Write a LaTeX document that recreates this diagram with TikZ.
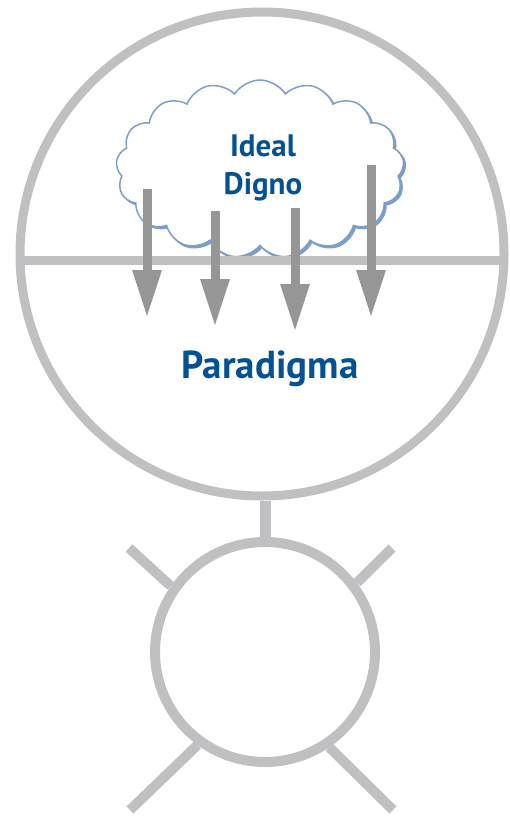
\documentclass[tikz,border=0pt]{standalone}
\usepackage{fontspec}
\setmainfont{PT Sans}
\usetikzlibrary{arrows.meta,shapes.symbols}
\definecolor{ringgray}{RGB}{192,192,194}
\definecolor{arrowgray}{RGB}{150,150,150}
\definecolor{cloudblue}{RGB}{125,158,204}
\definecolor{textblue}{RGB}{4,82,148}
\tikzset{
  ring/.style={circle, draw=ringgray, inner sep=0pt, fill=none},
  bar/.style={draw=ringgray, line cap=butt},
  downarrow/.style={draw=arrowgray, line width=9pt, -{Triangle[width=27pt,length=48pt]}},
  cloudshape/.style={cloud, cloud puffs=17, cloud puff arc=115, aspect=1.7, inner sep=0pt,
     minimum width=288pt, minimum height=178pt},
  label/.style={text=textblue, font=\bfseries, align=center}
}
\begin{document}
\begin{tikzpicture}[x=1pt,y=-1pt]
\useasboundingbox (0,0) rectangle (510,816);
% big circle
\node[ring, line width=9pt, minimum size=484pt] (big) at (262,254) {};
% cloud (shadow + cloud)
\node[cloudshape, fill=cloudblue, draw=cloudblue, line width=1.2pt] (cloudshadow) at (262,171) {};
\node[cloudshape, fill=white, draw=cloudblue, line width=1.5pt] (cloud) at (260,169) {};
% horizontal divider
\coordinate (hl) at (21,260);
\coordinate (hr) at (503,260);
\draw[bar, line width=9pt] (hl) -- (hr);
% text
\node[label, font=\bfseries\fontsize{31}{38}\selectfont] (ideal) at (263,168) {Ideal\\Digno};
\node[label, font=\bfseries\fontsize{39}{44}\selectfont] (para) at (270,369) {Paradigma};
% arrows
\coordinate (a1s) at (147,189); \coordinate (a1e) at (147,318);
\coordinate (a2s) at (215,211); \coordinate (a2e) at (215,327);
\coordinate (a3s) at (295,208); \coordinate (a3e) at (295,332);
\coordinate (a4s) at (371,165); \coordinate (a4e) at (371,318);
\draw[downarrow] (a1s) -- (a1e);
\draw[downarrow] (a2s) -- (a2e);
\draw[downarrow] (a3s) -- (a3e);
\draw[downarrow] (a4s) -- (a4e);
% small circle
\node[ring, line width=10pt, minimum size=220pt] (small) at (265,652) {};
\draw[bar, line width=11pt] (small.north |- big.south) -- (small.north);
% radiating lines
\coordinate (tl) at (129,548);
\coordinate (tr) at (392,548);
\coordinate (bl) at (130,810);
\coordinate (br) at (393,810);
\draw[bar, line width=10pt] (tl) -- (small.145);
\draw[bar, line width=10pt] (tr) -- (small.37);
\draw[bar, line width=10pt] (bl) -- (small.234);
\draw[bar, line width=10pt] (br) -- (small.304);
\end{tikzpicture}
\end{document}
